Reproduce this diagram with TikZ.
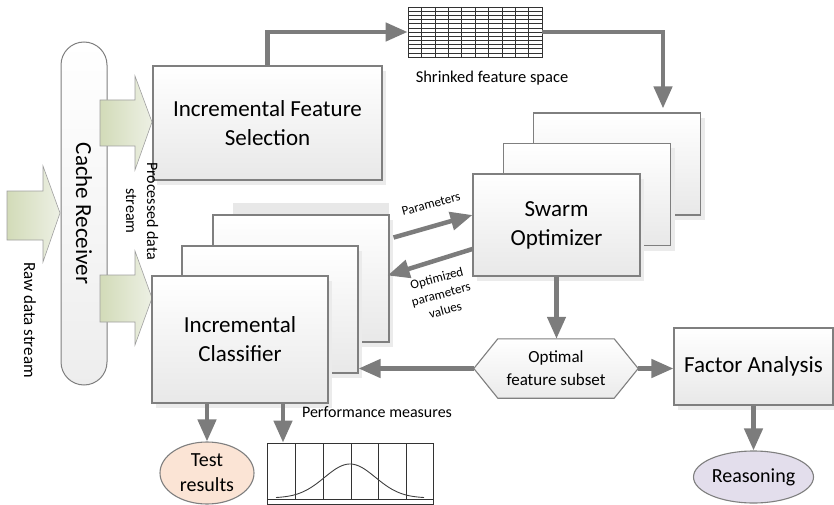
\documentclass[tikz,border=0pt]{standalone}
\usepackage{fontspec}
\setmainfont{Carlito}
\usetikzlibrary{arrows.meta, shadows, shapes.geometric}
\definecolor{lngray}{HTML}{7F7F7F}
\definecolor{argray}{HTML}{7C7C7C}
\definecolor{grnA}{HTML}{D2DBB8}
\definecolor{grnB}{HTML}{EDF0E4}
\definecolor{peach}{HTML}{FBE4D5}
\definecolor{lilac}{HTML}{E3DEEC}
\newcommand{\bigtxt}{\fontsize{23}{29}\selectfont}
\newcommand{\midtxt}{\fontsize{16}{22}\selectfont}
\newcommand{\smltxt}{\fontsize{13}{16.5}\selectfont}

\begin{document}
\begin{tikzpicture}[x=1pt, y=-1pt,
     blk/.style={draw=lngray, line width=1.1pt, top color=white, bottom color=gray!18, align=center, inner sep=0pt,
       font=\bigtxt, drop shadow={shadow xshift=4pt, shadow yshift=-5pt, fill=gray!16, opacity=1}},
     oval/.style={ellipse, draw=lngray, line width=1.1pt, align=center, inner sep=0pt, font=\fontsize{20}{25}\selectfont},
     fat/.style={draw=gray!75, line width=0.6pt, left color=grnA, right color=grnB},
     lbl/.style={align=center, inner sep=0pt},
     a/.style={-{Triangle[length=22pt, width=18pt]}, line width=4.5pt, argray}]
    \useasboundingbox (0,0) rectangle (834,505);
    % receiver and incoming streams
    \node[draw=lngray, line width=1pt, rounded corners=23pt, top color=white, bottom color=gray!14, font=\bigtxt,
          minimum width=343pt, minimum height=46pt, rotate=-90, inner sep=0pt] (rcv) at (84,213.5) {Cache Receiver};
    \draw[fat] (7,191) -- (43,191) -- (43,166) -- (60,213) -- (43,262) -- (43,240) -- (7,240) -- cycle;
    \draw[fat] (100,100) -- (135,100) -- (135,76) -- (152,122) -- (135,170) -- (135,146) -- (100,146) -- cycle;
    \draw[fat] (100,275) -- (135,275) -- (135,251) -- (152,298) -- (135,345) -- (135,322) -- (100,322) -- cycle;
    \node[lbl, rotate=-90, font=\fontsize{17}{22}\selectfont] (raw) at (30,320) {Raw data stream};
    % feature selection
    \node[blk, minimum width=229pt, minimum height=114pt] (ifs) at (267.5,123) {Incremental Feature\\Selection};
    \node[draw=black!80, line width=0.8pt, minimum width=134pt, minimum height=50pt, inner sep=0pt] (grid) at (475,32) {};
    \foreach \i in {1,...,9}
      \draw[black!80, line width=0.6pt] (408+13.4*\i,7) -- (408+13.4*\i,57);
    \foreach \j in {1,...,11}
      \draw[black!80, line width=0.6pt] (408,7+4.17*\j) -- (542,7+4.17*\j);
    \node[lbl, font=\fontsize{16.5}{20}\selectfont] (shr) at (492,78) {Shrinked feature space};
    % swarm optimizer stack
    \node[blk, minimum width=167pt, minimum height=102pt] (swb) at (617,164) {};
    \node[blk, minimum width=167pt, minimum height=102pt] (swm) at (587,194.5) {};
    \node[blk, minimum width=167pt, minimum height=102pt] (swf) at (556.5,225) {Swarm\\Optimizer};
    % classifier stack
    \fill[gray!18] (233,203) rectangle (389,216);
    \node[blk, minimum width=176pt, minimum height=127pt] (clb) at (301,278.5) {};
    \node[blk, minimum width=176pt, minimum height=127pt] (clm) at (270,309.5) {};
    \node[blk, minimum width=176pt, minimum height=127pt] (clf) at (240,339.5) {Incremental\\Classifier};
    \node[lbl, rotate=-90, font=\fontsize{16}{21}\selectfont] (prc) at (142,211) {Processed data\\stream};
    % optimal subset and analysis
    \node[lbl, minimum width=164pt, minimum height=59pt] (opt) at (556,368.5) {};
    \draw[draw=lngray, line width=1.1pt, top color=white, bottom color=gray!16]
      (opt.west) -- ([xshift=24pt]opt.north west) -- ([xshift=-24pt]opt.north east) -- (opt.east)
      -- ([xshift=-24pt]opt.south east) -- ([xshift=24pt]opt.south west) -- cycle;
    \node[lbl, font=\fontsize{17}{23}\selectfont] (optt) at (opt) {Optimal\\feature subset};
    \node[blk, minimum width=159pt, minimum height=77pt] (fa) at (753.5,366.5) {Factor Analysis};
    \node[oval, fill=lilac, minimum width=120pt, minimum height=52pt] (rsn) at (753.5,477) {Reasoning};
    % outputs
    \node[oval, fill=peach, minimum width=94pt, minimum height=62pt] (tst) at (207,473) {Test\\results};
    \node[draw=black!80, line width=0.8pt, minimum width=166pt, minimum height=61pt, inner sep=0pt] (perf) at (350,473.5) {};
    \draw[black!80, line width=0.8pt] (267,499) -- (433,499);
    \foreach \x in {295,323,351,378,406}
      \draw[black!80, line width=0.8pt] (\x,443) -- (\x,499);
    \draw[black!75, line width=0.9pt] plot[domain=-74:74, samples=70, smooth] ({350+\x},{498-34*exp(-((\x/36)*(\x/36)))});
    \node[lbl, font=\midtxt] (pm) at (377,412) {Performance measures};
    % connectors
    \draw[a] (ifs.north) |- (grid.west);
    \draw[a, shorten >=4pt] (grid.east) -| ([xshift=46pt]swb.north);
    \draw[a] ([xshift=4pt, yshift=41pt]clb.east) -- ([yshift=10pt]swf.west);
    \node[lbl, rotate=15, font=\smltxt] (par) at (431,204) {Parameters};
    \draw[a] ([yshift=-24pt]swf.west) -- ([xshift=-2pt, yshift=3pt]clb.east);
    \node[lbl, rotate=15, font=\smltxt] (opv) at (441,294) {Optimized\\parameters\\values};
    \draw[a] (swf.south) -- (swf.south |- opt.north);
    \draw[a] (opt.west) -- (opt.west -| clm.east);
    \draw[a] (opt.east) -- (opt.east -| fa.west);
    \draw[a] (fa.south) -- (rsn.north);
    \draw[a] (clf.south -| tst.north) -- (tst.north);
    \draw[a] ([xshift=43pt]clf.south) -- ([xshift=43pt]clf.south |- perf.north);
  \end{tikzpicture}
\end{document}
